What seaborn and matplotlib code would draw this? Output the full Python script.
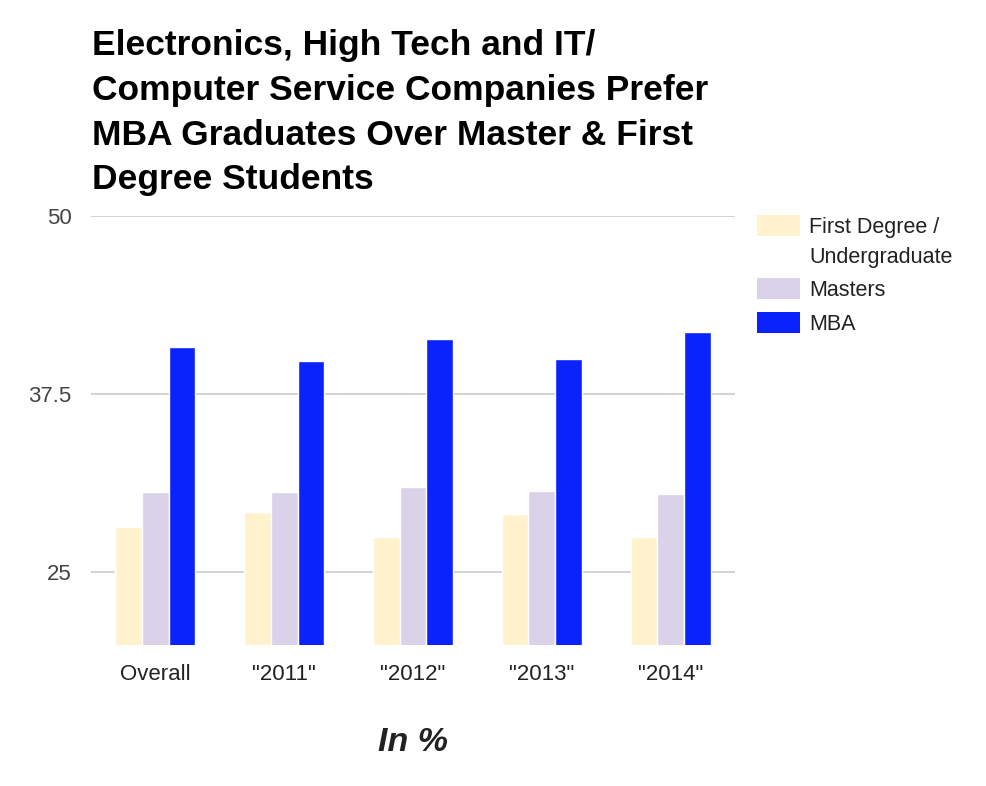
import numpy as np
import pandas as pd
import seaborn as sns
import matplotlib.pyplot as plt
from matplotlib.patches import Rectangle

# data (percent)
categories = ['Overall', '"2011"', '"2012"', '"2013"', '"2014"']
first_degree = [28.2, 29.2, 27.45, 29.1, 27.45]
masters = [30.6, 30.6, 31.0, 30.7, 30.5]
mba = [40.8, 39.8, 41.35, 40.0, 41.85]
series = ['First Degree / Undergraduate', 'Masters', 'MBA']
colors = ['#fff2cc', '#d9d2e9', '#0a23fb']
y_ticks = [25, 37.5, 50]
y_tick_labels = ['25', '37.5', '50']

df = pd.DataFrame({
    'category': categories * 3,
    'degree': [series[0]] * 5 + [series[1]] * 5 + [series[2]] * 5,
    'value': first_degree + masters + mba,
})

sns.set_theme(style="white")
plt.rcParams['font.family'] = ['Liberation Sans', 'DejaVu Sans']

W, H = 986, 786
def px(x, y):
    # pixel position -> figure fraction
    return x / W, 1 - y / H

fig = plt.figure(figsize=(W / 100, H / 100), dpi=100)
ax = fig.add_axes([91 / W, 1 - 645 / H, (735 - 91) / W, (645 - 216) / H])

sns.barplot(data=df, x='category', y='value', hue='degree', palette=colors,
            hue_order=series, order=categories, width=0.62, saturation=1,
            edgecolor='white', linewidth=1, legend=False, ax=ax)

ax.set_xlim(-0.5, 4.5)
ax.set_ylim(19.9, 50)
ax.set_yticks(y_ticks)
ax.set_yticklabels(y_tick_labels)
ax.yaxis.grid(True, color='#cccccc', linewidth=1.2)
ax.set_axisbelow(True)
for s in ax.spines.values():
    s.set_visible(False)
ax.tick_params(axis='both', length=0, labelsize=16)
ax.tick_params(axis='y', pad=14, labelcolor='#444444')
ax.tick_params(axis='x', pad=14, labelcolor='#222222')
ax.set_ylabel('')
ax.set_xlabel('In %', fontsize=24.5, fontweight='bold', fontstyle='italic',
              color='#222222', labelpad=30)

# title
fig.text(*px(92, 29), 'Electronics, High Tech and IT/\nComputer Service Companies Prefer\n'
         'MBA Graduates Over Master & First\nDegree Students',
         ha='left', va='top', fontsize=25.5, fontweight='bold', color='black',
         linespacing=1.455)

# legend
legend_rows = [(series[0], 215, ['First Degree /', 'Undergraduate'], [233, 263]),
               (series[1], 278, ['Masters'], [296.5]),
               (series[2], 312, ['MBA'], [330])]
for (name, top, lines, bases), c in zip(legend_rows, colors):
    x0, y0 = px(757, top + 21)
    fig.add_artist(Rectangle((x0, y0), 43 / W, 21 / H, transform=fig.transFigure,
                             facecolor=c, edgecolor='none'))
    for line, b in zip(lines, bases):
        fig.text(*px(809, b), line, ha='left', va='baseline', fontsize=15.5,
                 color='#222222')

fig.savefig('out.png', dpi=100)
